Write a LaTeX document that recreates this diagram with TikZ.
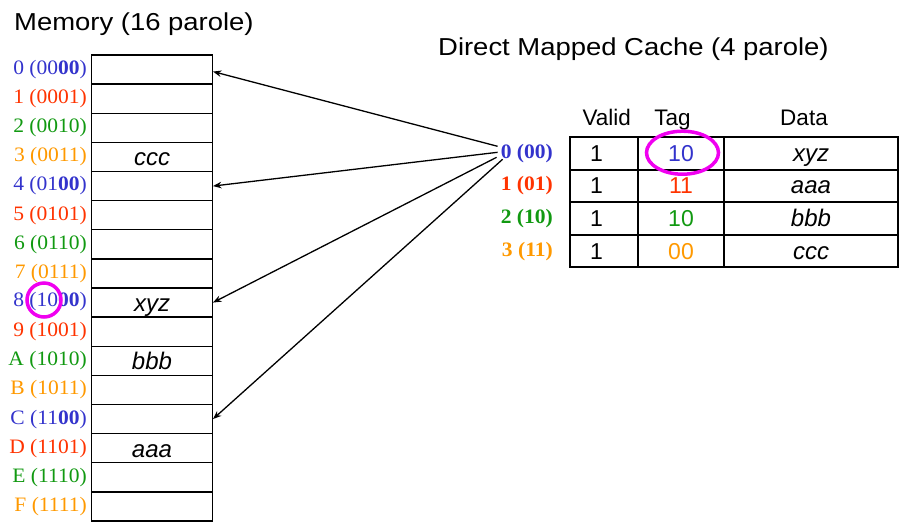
\documentclass[tikz,border=0pt]{standalone}
\usepackage{fontspec}
\setmainfont{Liberation Sans}
\newfontfamily\timesf[FakeStretch=1.05]{Liberation Serif}
\newfontfamily\titlef[FakeStretch=1.12]{Liberation Sans}
\usetikzlibrary{arrows.meta,calc,shapes.geometric}
\definecolor{cb}{HTML}{3333CC}
\definecolor{cr}{HTML}{FF3300}
\definecolor{cg}{HTML}{119911}
\definecolor{co}{HTML}{FF9900}
\definecolor{mg}{HTML}{F000F0}
\tikzset{
  memcell/.style={draw=black, line width=1.4pt, minimum width=120.5pt, minimum height=29.125pt, inner sep=0pt, text height=20pt, text depth=2pt, font=\fontsize{24}{26}\selectfont\itshape},
  memlab/.style={anchor=east, inner sep=0pt, font=\timesf\fontsize{20.5}{24}\selectfont},
  cachelab/.style={anchor=east, inner sep=0pt, font=\timesf\bfseries\fontsize{20.5}{24}\selectfont},
  vcell/.style={draw=black, line width=2pt, text width=28pt, inner xsep=20pt, inner ysep=0pt, align=left, minimum height=32.6pt, text height=18pt, text depth=2pt, font=\fontsize{23}{26}\selectfont},
  tcell/.style={draw=black, line width=2pt, minimum width=86pt, minimum height=32.6pt, inner sep=0pt, text height=18pt, text depth=2pt, font=\fontsize{23}{26}\selectfont},
  dcell/.style={draw=black, line width=2pt, minimum width=174pt, minimum height=32.6pt, inner sep=0pt, text height=18pt, text depth=2pt, font=\fontsize{24}{26}\selectfont\itshape},
  hdr/.style={anchor=base, inner sep=0pt, font=\fontsize{22.5}{26}\selectfont},
  ttl/.style={anchor=base west, inner sep=0pt, font=\titlef\fontsize{24.5}{28}\selectfont},
  ptr/.style={draw=black, line width=1.3pt, -{Stealth[length=8.5pt,width=6.5pt]}},
  hilite/.style={draw=mg, line width=3.5pt, inner sep=0pt}
}
\begin{document}
\begin{tikzpicture}[x=1pt,y=-1pt]
\useasboundingbox (0,0) rectangle (904,523);
% titles
\node[ttl] (t1) at (14,30.7) {Memory (16 parole)};
\node[ttl] (t2) at (438,55) {Direct Mapped Cache (4 parole)};
% memory cells
\node[memcell] (m0) at (152,69.56) {};
\node[memcell] (m1) at (152,98.69) {};
\node[memcell] (m2) at (152,127.81) {};
\node[memcell] (m3) at (152,156.94) {ccc};
\node[memcell] (m4) at (152,186.06) {};
\node[memcell] (m5) at (152,215.19) {};
\node[memcell] (m6) at (152,244.31) {};
\node[memcell] (m7) at (152,273.44) {};
\node[memcell] (m8) at (152,302.56) {xyz};
\node[memcell] (m9) at (152,331.69) {};
\node[memcell] (m10) at (152,360.81) {bbb};
\node[memcell] (m11) at (152,389.94) {};
\node[memcell] (m12) at (152,419.06) {};
\node[memcell] (m13) at (152,448.19) {aaa};
\node[memcell] (m14) at (152,477.31) {};
\node[memcell] (m15) at (152,506.44) {};
% memory labels
\node[memlab, text=cb] (l0) at (87,69.56) {0 (00\textbf{00})};
\node[memlab, text=cr] (l1) at (87,98.69) {1 (0001)};
\node[memlab, text=cg] (l2) at (87,127.81) {2 (0010)};
\node[memlab, text=co] (l3) at (87,156.94) {3 (0011)};
\node[memlab, text=cb] (l4) at (87,186.06) {4 (01\textbf{00})};
\node[memlab, text=cr] (l5) at (87,215.19) {5 (0101)};
\node[memlab, text=cg] (l6) at (87,244.31) {6 (0110)};
\node[memlab, text=co] (l7) at (87,273.44) {7 (0111)};
\node[memlab, text=cb] (l8) at (87,301.5) {8 (10\textbf{00})};
\node[memlab, text=cr] (l9) at (87,331.69) {9 (1001)};
\node[memlab, text=cg] (l10) at (87,360.81) {A (1010)};
\node[memlab, text=co] (l11) at (87,389.94) {B (1011)};
\node[memlab, text=cb] (l12) at (87,419.06) {C (11\textbf{00})};
\node[memlab, text=cr] (l13) at (87,448.19) {D (1101)};
\node[memlab, text=cg] (l14) at (87,477.31) {E (1110)};
\node[memlab, text=co] (l15) at (87,506.44) {F (1111)};
% highlight circle
\node[hilite, circle, minimum size=34pt] (hc) at (44,300) {};
% cache headers
\node[hdr] (hv) at (606.7,125) {Valid};
\node[hdr] (ht) at (672.5,125) {Tag};
\node[hdr] (hd) at (804,125) {Data};
% cache table
\node[vcell] (v0) at (604,153.3) {1};
\node[vcell] (v1) at (604,185.9) {1};
\node[vcell] (v2) at (604,218.5) {1};
\node[vcell] (v3) at (604,251.1) {1};
\node[tcell, text=cb] (g0) at (681,153.3) {10};
\node[tcell, text=cr] (g1) at (681,185.9) {11};
\node[tcell, text=cg] (g2) at (681,218.5) {10};
\node[tcell, text=co] (g3) at (681,251.1) {00};
\node[dcell] (d0) at (811,153.3) {xyz};
\node[dcell] (d1) at (811,185.9) {aaa};
\node[dcell] (d2) at (811,218.5) {bbb};
\node[dcell] (d3) at (811,251.1) {ccc};
% cache indices
\node[cachelab, text=cb] (c0) at (553,153.3) {0 (00)};
\node[cachelab, text=cr] (c1) at (553,185.9) {1 (01)};
\node[cachelab, text=cg] (c2) at (553,218.5) {2 (10)};
\node[cachelab, text=co] (c3) at (553,251.1) {3 (11)};
% highlight ellipse
\node[hilite, ellipse, minimum width=72pt, minimum height=43pt] (he) at (682.5,152.7) {};
% pointers
\draw[ptr] ($(c0.west)+(-3,-7)$) -- ($(m0.east)+(0,2)$);
\draw[ptr] ($(c0.west)+(-3,-1)$) -- (m4.east);
\draw[ptr] ($(c0.west)+(-4,4)$) -- (m8.east);
\draw[ptr] ($(c0.west)+(2,6)$) -- (m12.east);
\end{tikzpicture}
\end{document}
